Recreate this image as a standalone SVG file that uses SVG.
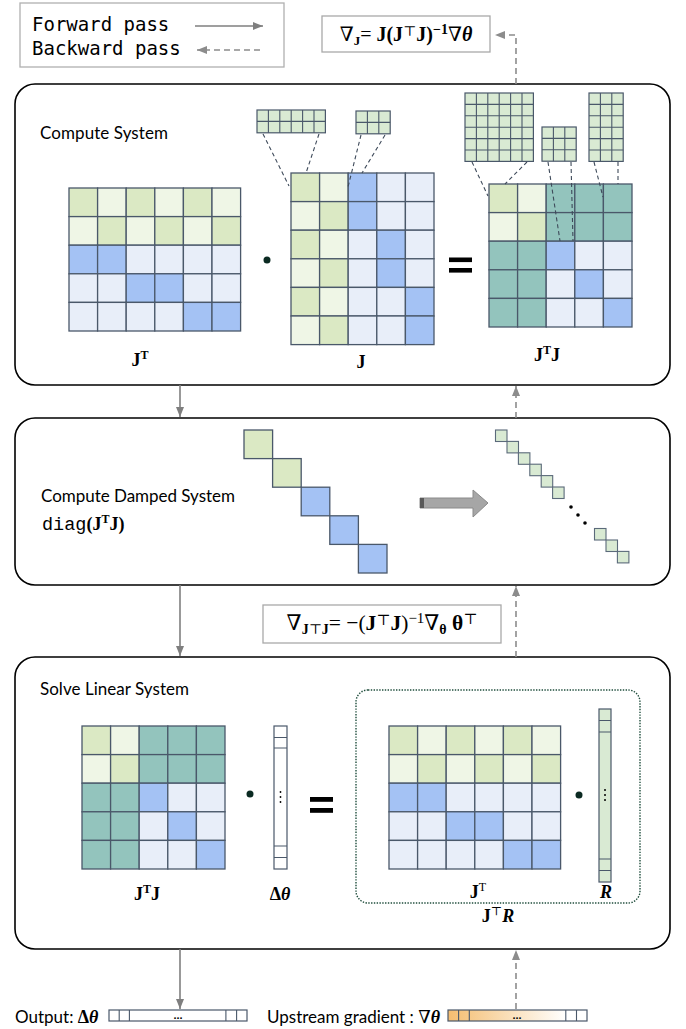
<svg xmlns="http://www.w3.org/2000/svg" xmlns:xlink="http://www.w3.org/1999/xlink" width="686" height="1029" viewBox="0 0 686 1029">
  <style>
    .box { fill: #ffffff; stroke: #000000; stroke-width: 1.6; }
    .fbox { fill: #ffffff; stroke: #a9a9a9; stroke-width: 1.3; }
    .c { stroke: #4a586a; stroke-width: 1.3; }
    .G { fill: #dbe9c4; }
    .g { fill: #eff6e6; }
    .B { fill: #a4c2f4; }
    .b { fill: #e8eef9; }
    .T { fill: #93c4bd; }
    .sg { fill: #d9ead3; stroke: #4a586a; stroke-width: 1.2; }
    .gl { fill: none; stroke: #4a586a; stroke-width: 1.1; }
    .lead { fill: none; stroke: #3e4a5a; stroke-width: 1.1; stroke-dasharray: 4 3; }
    .fwd { fill: none; stroke: #7f7f7f; stroke-width: 1.6; marker-end: url(#ah); }
    .bwd { fill: none; stroke: #8c8c8c; stroke-width: 1.6; stroke-dasharray: 6 4; marker-end: url(#ah2); }
    .lbl { font-family: Lato, "Open Sans", sans-serif; font-size: 17px; fill: #000000; }
    .mono { font-family: "DejaVu Sans Mono", "Liberation Mono", monospace; font-size: 19px; fill: #000000; }
    .m { font-family: "Liberation Serif", "DejaVu Serif", serif; font-size: 18px; fill: #000000; }
    .fm { font-family: "Liberation Serif", "DejaVu Serif", serif; font-size: 20px; fill: #000000; }
    .bd { font-weight: bold; }
    .it { font-style: italic; }
    .dot { fill: #0b2a22; }
    .eq { fill: #000000; }
    .vec { fill: #ffffff; stroke: #4a586a; stroke-width: 1.2; }
    .vecg { fill: #d9ead3; stroke: #4a586a; stroke-width: 1.2; }
    .dg { fill: #d9ead3; stroke: #5b6a7a; stroke-width: 1.1; }
  </style>
  <defs>
    <marker id="ah" viewBox="0 0 10 8" refX="10" refY="4" markerWidth="10" markerHeight="8" markerUnits="userSpaceOnUse" orient="auto">
      <path d="M0,0 L10,4 L0,8 Z" fill="#7f7f7f"/>
    </marker>
    <marker id="ah2" viewBox="0 0 10 8" refX="10" refY="4" markerWidth="10" markerHeight="8" markerUnits="userSpaceOnUse" orient="auto">
      <path d="M0,0 L10,4 L0,8 Z" fill="#8c8c8c"/>
    </marker>
    <linearGradient id="upg" x1="0" y1="0" x2="1" y2="0">
      <stop offset="0" stop-color="#f5bd70"/>
      <stop offset="0.85" stop-color="#ffffff"/>
    </linearGradient>
    <!-- J transpose: 6 columns x 5 rows -->
    <g id="mJT" class="c">
      <rect class="G" x="0" y="0" width="28.6" height="28.6"/><rect class="g" x="28.6" y="0" width="28.6" height="28.6"/><rect class="G" x="57.2" y="0" width="28.6" height="28.6"/><rect class="g" x="85.8" y="0" width="28.6" height="28.6"/><rect class="G" x="114.4" y="0" width="28.6" height="28.6"/><rect class="g" x="143" y="0" width="28.6" height="28.6"/>
      <rect class="g" x="0" y="28.6" width="28.6" height="28.6"/><rect class="G" x="28.6" y="28.6" width="28.6" height="28.6"/><rect class="g" x="57.2" y="28.6" width="28.6" height="28.6"/><rect class="G" x="85.8" y="28.6" width="28.6" height="28.6"/><rect class="g" x="114.4" y="28.6" width="28.6" height="28.6"/><rect class="G" x="143" y="28.6" width="28.6" height="28.6"/>
      <rect class="B" x="0" y="57.2" width="28.6" height="28.6"/><rect class="B" x="28.6" y="57.2" width="28.6" height="28.6"/><rect class="b" x="57.2" y="57.2" width="28.6" height="28.6"/><rect class="b" x="85.8" y="57.2" width="28.6" height="28.6"/><rect class="b" x="114.4" y="57.2" width="28.6" height="28.6"/><rect class="b" x="143" y="57.2" width="28.6" height="28.6"/>
      <rect class="b" x="0" y="85.8" width="28.6" height="28.6"/><rect class="b" x="28.6" y="85.8" width="28.6" height="28.6"/><rect class="B" x="57.2" y="85.8" width="28.6" height="28.6"/><rect class="B" x="85.8" y="85.8" width="28.6" height="28.6"/><rect class="b" x="114.4" y="85.8" width="28.6" height="28.6"/><rect class="b" x="143" y="85.8" width="28.6" height="28.6"/>
      <rect class="b" x="0" y="114.4" width="28.6" height="28.6"/><rect class="b" x="28.6" y="114.4" width="28.6" height="28.6"/><rect class="b" x="57.2" y="114.4" width="28.6" height="28.6"/><rect class="b" x="85.8" y="114.4" width="28.6" height="28.6"/><rect class="B" x="114.4" y="114.4" width="28.6" height="28.6"/><rect class="B" x="143" y="114.4" width="28.6" height="28.6"/>
    </g>
    <!-- J transpose J: 5 x 5 -->
    <g id="mJTJ" class="c">
      <rect class="G" x="0" y="0" width="28.6" height="28.6"/><rect class="g" x="28.6" y="0" width="28.6" height="28.6"/><rect class="T" x="57.2" y="0" width="28.6" height="28.6"/><rect class="T" x="85.8" y="0" width="28.6" height="28.6"/><rect class="T" x="114.4" y="0" width="28.6" height="28.6"/>
      <rect class="g" x="0" y="28.6" width="28.6" height="28.6"/><rect class="G" x="28.6" y="28.6" width="28.6" height="28.6"/><rect class="T" x="57.2" y="28.6" width="28.6" height="28.6"/><rect class="T" x="85.8" y="28.6" width="28.6" height="28.6"/><rect class="T" x="114.4" y="28.6" width="28.6" height="28.6"/>
      <rect class="T" x="0" y="57.2" width="28.6" height="28.6"/><rect class="T" x="28.6" y="57.2" width="28.6" height="28.6"/><rect class="B" x="57.2" y="57.2" width="28.6" height="28.6"/><rect class="b" x="85.8" y="57.2" width="28.6" height="28.6"/><rect class="b" x="114.4" y="57.2" width="28.6" height="28.6"/>
      <rect class="T" x="0" y="85.8" width="28.6" height="28.6"/><rect class="T" x="28.6" y="85.8" width="28.6" height="28.6"/><rect class="b" x="57.2" y="85.8" width="28.6" height="28.6"/><rect class="B" x="85.8" y="85.8" width="28.6" height="28.6"/><rect class="b" x="114.4" y="85.8" width="28.6" height="28.6"/>
      <rect class="T" x="0" y="114.4" width="28.6" height="28.6"/><rect class="T" x="28.6" y="114.4" width="28.6" height="28.6"/><rect class="b" x="57.2" y="114.4" width="28.6" height="28.6"/><rect class="b" x="85.8" y="114.4" width="28.6" height="28.6"/><rect class="B" x="114.4" y="114.4" width="28.6" height="28.6"/>
    </g>
  </defs>

  <!-- legend -->
  <g id="legend">
    <rect x="20" y="3" width="264" height="64" fill="#ffffff" stroke="#b0b0b0" stroke-width="1.3"/>
    <text class="mono" x="32" y="31">Forward pass</text>
    <text class="mono" x="32" y="55">Backward pass</text>
    <path class="fwd" d="M195,26 H263"/>
    <path class="bwd" d="M260,50 H197"/>
  </g>

  <!-- gradient of J -->
  <g id="grad-j">
    <rect class="fbox" x="322" y="16" width="168" height="36"/>
    <text class="fm" x="406" y="41" text-anchor="middle">∇<tspan class="bd" font-size="13" dy="4">J</tspan><tspan dy="-4">= </tspan><tspan class="bd">J(J</tspan><tspan font-size="14" dy="-5">⊤</tspan><tspan class="bd" dy="5">J)</tspan><tspan class="bd" font-size="14" dy="-7">−1</tspan><tspan dy="7">∇</tspan><tspan class="bd it">θ</tspan></text>
  </g>

  <!-- stage 1: compute system -->
  <g id="compute-system">
    <rect class="box" x="15" y="84" width="655" height="301" rx="20"/>
    <text class="lbl" x="40" y="139" textLength="128">Compute System</text>

    <use xlink:href="#mJT" x="69" y="188"/>
    <text class="m" x="140" y="366" text-anchor="middle"><tspan class="bd">J</tspan><tspan class="bd" font-size="12" dy="-7">T</tspan></text>

    <circle class="dot" cx="267" cy="260" r="3.5"/>

    <!-- J: 5 columns x 6 rows -->
    <g class="c" transform="translate(291,173)">
      <rect class="G" x="0" y="0" width="28.6" height="28.6"/><rect class="g" x="28.6" y="0" width="28.6" height="28.6"/><rect class="B" x="57.2" y="0" width="28.6" height="28.6"/><rect class="b" x="85.8" y="0" width="28.6" height="28.6"/><rect class="b" x="114.4" y="0" width="28.6" height="28.6"/>
      <rect class="g" x="0" y="28.6" width="28.6" height="28.6"/><rect class="G" x="28.6" y="28.6" width="28.6" height="28.6"/><rect class="B" x="57.2" y="28.6" width="28.6" height="28.6"/><rect class="b" x="85.8" y="28.6" width="28.6" height="28.6"/><rect class="b" x="114.4" y="28.6" width="28.6" height="28.6"/>
      <rect class="G" x="0" y="57.2" width="28.6" height="28.6"/><rect class="g" x="28.6" y="57.2" width="28.6" height="28.6"/><rect class="b" x="57.2" y="57.2" width="28.6" height="28.6"/><rect class="B" x="85.8" y="57.2" width="28.6" height="28.6"/><rect class="b" x="114.4" y="57.2" width="28.6" height="28.6"/>
      <rect class="g" x="0" y="85.8" width="28.6" height="28.6"/><rect class="G" x="28.6" y="85.8" width="28.6" height="28.6"/><rect class="b" x="57.2" y="85.8" width="28.6" height="28.6"/><rect class="B" x="85.8" y="85.8" width="28.6" height="28.6"/><rect class="b" x="114.4" y="85.8" width="28.6" height="28.6"/>
      <rect class="G" x="0" y="114.4" width="28.6" height="28.6"/><rect class="g" x="28.6" y="114.4" width="28.6" height="28.6"/><rect class="b" x="57.2" y="114.4" width="28.6" height="28.6"/><rect class="b" x="85.8" y="114.4" width="28.6" height="28.6"/><rect class="B" x="114.4" y="114.4" width="28.6" height="28.6"/>
      <rect class="g" x="0" y="143" width="28.6" height="28.6"/><rect class="G" x="28.6" y="143" width="28.6" height="28.6"/><rect class="b" x="57.2" y="143" width="28.6" height="28.6"/><rect class="b" x="85.8" y="143" width="28.6" height="28.6"/><rect class="B" x="114.4" y="143" width="28.6" height="28.6"/>
    </g>
    <text class="m" x="361" y="368" text-anchor="middle"><tspan class="bd">J</tspan></text>

    <rect class="eq" x="449" y="257.5" width="23" height="4.6"/>
    <rect class="eq" x="449" y="268" width="23" height="4.6"/>

    <use xlink:href="#mJTJ" x="489" y="184"/>
    <text class="m" x="547" y="361" text-anchor="middle"><tspan class="bd">J</tspan><tspan class="bd" font-size="12" dy="-7">T</tspan><tspan class="bd" dy="7">J</tspan></text>

    <!-- sub-block grids -->
    <rect class="sg" x="257" y="110" width="68.4" height="22.8"/>
    <path class="gl" d="M268.4,110V132.8M279.8,110V132.8M291.2,110V132.8M302.6,110V132.8M314,110V132.8M257,121.4H325.4"/>
    <rect class="sg" x="356" y="111" width="34.2" height="22.8"/>
    <path class="gl" d="M367.4,111V133.8M378.8,111V133.8M356,122.4H390.2"/>
    <rect class="sg" x="465" y="93" width="68.4" height="68.4"/>
    <path class="gl" d="M476.4,93V161.4M487.8,93V161.4M499.2,93V161.4M510.6,93V161.4M522,93V161.4M465,104.4H533.4M465,115.8H533.4M465,127.2H533.4M465,138.6H533.4M465,150H533.4"/>
    <rect class="sg" x="542" y="127" width="34.2" height="34.2"/>
    <path class="gl" d="M553.4,127V161.2M564.8,127V161.2M542,138.4H576.2M542,149.8H576.2"/>
    <rect class="sg" x="589" y="93" width="34.2" height="68.4"/>
    <path class="gl" d="M600.4,93V161.4M611.8,93V161.4M589,104.4H623.2M589,115.8H623.2M589,127.2H623.2M589,138.6H623.2M589,150H623.2"/>

    <!-- leader lines from sub-blocks -->
    <path class="lead" d="M263,134L289,186M319,134L306,173M361,135L348,187M385,135L362,173M472,162L488,196M527,162L505,184M548,162L560,241M571,162L573,241M594,162L603,197M618,162L618,184"/>
  </g>

  <!-- stage 2: compute damped system -->
  <g id="compute-damped">
    <rect class="box" x="15" y="418" width="655" height="167" rx="20"/>
    <text class="lbl" x="41" y="502" textLength="194">Compute Damped System</text>
    <text class="m bd" x="42" y="530"><tspan font-family="'Liberation Mono', 'Courier New', monospace" font-weight="normal" font-size="18.5">diag</tspan>(J<tspan font-size="12" dy="-7">T</tspan><tspan dy="7">J)</tspan></text>

    <rect class="G c" x="244" y="430" width="28.6" height="28.6"/>
    <rect class="G c" x="272.6" y="458.6" width="28.6" height="28.6"/>
    <rect class="B c" x="301.2" y="487.2" width="28.6" height="28.6"/>
    <rect class="B c" x="329.8" y="515.8" width="28.6" height="28.6"/>
    <rect class="B c" x="358.4" y="544.4" width="28.6" height="28.6"/>

    <path d="M420,498 H473 V490 L488,503 L473,517 V508 H420 Z" fill="#a6a6a6" stroke="#8a8a8a" stroke-width="1"/>
    <rect x="420" y="498" width="4" height="10" fill="#595959"/>

    <rect class="dg" x="495.5" y="430" width="11.5" height="11.5"/>
    <rect class="dg" x="507" y="441.4" width="11.5" height="11.5"/>
    <rect class="dg" x="518.4" y="452.8" width="11.5" height="11.5"/>
    <rect class="dg" x="529.8" y="464.2" width="11.5" height="11.5"/>
    <rect class="dg" x="541.2" y="475.6" width="11.5" height="11.5"/>
    <rect class="dg" x="552.6" y="487" width="11.5" height="11.5"/>
    <circle cx="571" cy="507" r="1.8" fill="#000"/>
    <circle cx="578" cy="515" r="1.8" fill="#000"/>
    <circle cx="585" cy="523" r="1.8" fill="#000"/>
    <rect class="dg" x="594.5" y="528.5" width="11.5" height="11.5"/>
    <rect class="dg" x="606" y="540" width="11.5" height="11.5"/>
    <rect class="dg" x="617.4" y="551.4" width="11.5" height="11.5"/>
  </g>

  <!-- gradient of J transpose J -->
  <g id="grad-jtj">
    <rect class="fbox" x="263" y="605" width="238" height="38"/>
    <text class="fm" x="382" y="630" text-anchor="middle" style="font-size:21.5px">∇<tspan font-size="14" dy="4"><tspan class="bd">J</tspan>⊤<tspan class="bd">J</tspan></tspan><tspan dy="-4">= −(</tspan><tspan class="bd">J</tspan><tspan font-size="15" dy="-5">⊤</tspan><tspan class="bd" dy="5">J</tspan>)<tspan font-size="15" dy="-7">−1</tspan><tspan dy="7">∇</tspan><tspan class="bd" font-size="14" dy="4">θ</tspan><tspan class="bd" dy="-4"> θ</tspan><tspan font-size="15" dy="-6">⊤</tspan></text>
  </g>

  <!-- stage 3: solve linear system -->
  <g id="solve-linear">
    <rect class="box" x="15" y="657" width="655" height="292" rx="20"/>
    <text class="lbl" x="40" y="695" textLength="149">Solve Linear System</text>

    <use xlink:href="#mJTJ" x="82" y="726"/>
    <text class="m" x="147" y="900" text-anchor="middle"><tspan class="bd">J</tspan><tspan class="bd" font-size="12" dy="-7">T</tspan><tspan class="bd" dy="7">J</tspan></text>

    <circle class="dot" cx="250" cy="794" r="3.5"/>

    <rect class="vec" x="274" y="726" width="13" height="143"/>
    <path class="gl" d="M274,737.5H287M274,748H287M274,846H287M274,857.5H287"/>
    <circle cx="280.5" cy="792" r="0.9" fill="#000"/>
    <circle cx="280.5" cy="797" r="0.9" fill="#000"/>
    <circle cx="280.5" cy="802" r="0.9" fill="#000"/>
    <text class="m" x="280" y="900" text-anchor="middle"><tspan class="bd">Δ</tspan><tspan class="bd it">θ</tspan></text>

    <rect class="eq" x="310" y="797" width="23" height="4.8"/>
    <rect class="eq" x="310" y="808" width="23" height="4.8"/>

    <!-- right-hand side J transpose R -->
    <rect x="356" y="690" width="284" height="213" rx="12" fill="none" stroke="#1f4d3c" stroke-width="1.4" stroke-dasharray="1.4 1.4"/>
    <use xlink:href="#mJT" x="389" y="726"/>
    <text class="m" x="478" y="898" text-anchor="middle"><tspan class="bd">J</tspan><tspan font-size="12" dy="-7">T</tspan></text>

    <circle class="dot" cx="579" cy="795" r="3.5"/>

    <rect class="vecg" x="599" y="709" width="12" height="173"/>
    <path class="gl" d="M599,720.5H611M599,732H611M599,859H611M599,870.5H611"/>
    <circle cx="605" cy="790" r="1" fill="#000"/>
    <circle cx="605" cy="795" r="1" fill="#000"/>
    <circle cx="605" cy="800" r="1" fill="#000"/>
    <text class="m" x="606" y="898" text-anchor="middle"><tspan class="bd it">R</tspan></text>

    <text class="m" x="498" y="922" text-anchor="middle"><tspan class="bd">J</tspan><tspan font-size="12" dy="-7">⊤</tspan><tspan class="bd it" dy="7">R</tspan></text>
  </g>

  <!-- output and upstream gradient vectors -->
  <g id="output">
    <text class="lbl" x="15" y="1023">Output: <tspan class="m bd">Δ</tspan><tspan class="m bd it">θ</tspan></text>
    <rect class="vec" x="109" y="1010" width="138" height="11"/>
    <path class="gl" d="M119.2,1010V1021M129.4,1010V1021M225.9,1010V1021M236.6,1010V1021"/>
    <text x="178" y="1019" text-anchor="middle" font-family="'Liberation Sans', sans-serif" font-size="11" font-weight="bold">...</text>
  </g>
  <g id="upstream">
    <text class="lbl" x="267" y="1023">Upstream gradient : <tspan class="m">∇</tspan><tspan class="m bd it">θ</tspan></text>
    <rect x="448" y="1010" width="139" height="11" fill="url(#upg)" stroke="#4a586a" stroke-width="1.2"/>
    <path class="gl" d="M458.6,1010V1021M469.3,1010V1021M565.8,1010V1021M576.5,1010V1021"/>
    <text x="517" y="1019" text-anchor="middle" font-family="'Liberation Sans', sans-serif" font-size="11" font-weight="bold">...</text>
  </g>

  <!-- connectors -->
  <g id="connectors">
    <path class="fwd" d="M180,385 V417"/>
    <path class="fwd" d="M180,585 V656"/>
    <path class="fwd" d="M180,949 V1009"/>
    <path class="bwd" d="M516,84 V35 H495"/>
    <path class="bwd" d="M516,418 V386"/>
    <path class="bwd" d="M516,657 V586"/>
    <path class="bwd" d="M516,1009 V950"/>
  </g>
</svg>
